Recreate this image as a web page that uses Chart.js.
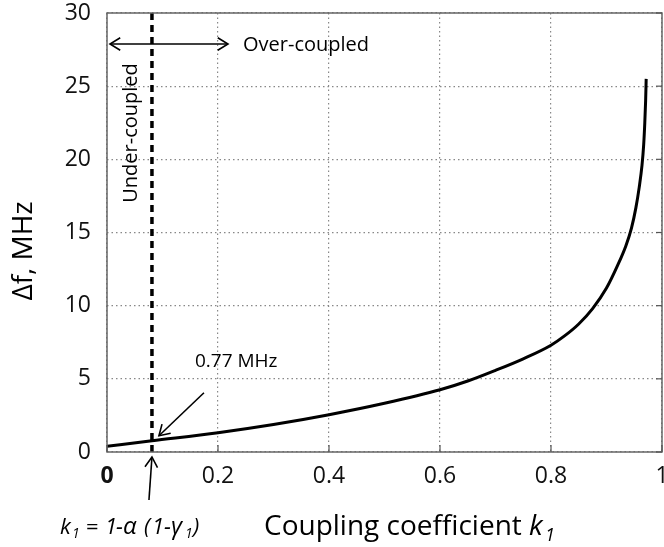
<!DOCTYPE html>
<html>
<head>
<meta charset="utf-8">
<script src="https://cdn.jsdelivr.net/npm/chart.js@4/dist/chart.umd.min.js"></script>
<style>
  html, body { margin: 0; padding: 0; background: #fff; }
  #wrap { width: 664px; height: 547px; }
</style>
</head>
<body>
<div id="wrap"><canvas id="dfChart" width="664" height="547"></canvas></div>
<script>
// values
const couplingK = [0, 0.081, 0.2, 0.3, 0.4, 0.5, 0.6, 0.65, 0.7, 0.75, 0.8, 0.825, 0.85, 0.875, 0.9, 0.92, 0.935, 0.945, 0.953, 0.959, 0.964, 0.967, 0.969, 0.9705, 0.9715];
const deltaF = [0.39, 0.77, 1.32, 1.88, 2.55, 3.33, 4.25, 4.85, 5.58, 6.37, 7.3, 7.95, 8.75, 9.8, 11.2, 12.75, 14.1, 15.3, 16.7, 18.1, 19.6, 21.0, 22.5, 24.0, 25.5];
const criticalK = 0.081;        // k1 = 1-a(1-g1)
const criticalDf = 0.77;        // MHz at the critical point
const yRange = [0, 30];
const xRange = [0, 1];

const FONT = "'Open Sans', 'Liberation Sans', sans-serif";

// draws text pieces, each at its own x
function drawAt(ctx, pieces, y) {
  pieces.forEach(p => {
    ctx.font = p.font;
    ctx.fillText(p.text, p.x, y + (p.dy || 0));
  });
}

function arrowHead(ctx, x1, y1, x2, y2, len) {
  const a = Math.atan2(y2 - y1, x2 - x1);
  ctx.beginPath();
  ctx.moveTo(x2 - len * Math.cos(a - 0.55), y2 - len * Math.sin(a - 0.55));
  ctx.lineTo(x2, y2);
  ctx.lineTo(x2 - len * Math.cos(a + 0.55), y2 - len * Math.sin(a + 0.55));
  ctx.stroke();
}

function arrow(ctx, x1, y1, x2, y2) {
  ctx.beginPath();
  ctx.moveTo(x1, y1);
  ctx.lineTo(x2, y2);
  ctx.stroke();
  arrowHead(ctx, x1, y1, x2, y2, 12);
}

const decorations = {
  id: 'decorations',
  afterDraw(chart) {
    const ctx = chart.ctx;
    const a = chart.chartArea;
    const xs = chart.scales.x, ys = chart.scales.y;
    ctx.save();

    // frame
    ctx.strokeStyle = '#666';
    ctx.lineWidth = 1.5;
    ctx.strokeRect(a.left, a.top, a.right - a.left, a.bottom - a.top);

    // small inner ticks on bottom and right
    ctx.lineWidth = 1.2;
    ctx.strokeStyle = '#555';
    xs.ticks.forEach(t => {
      const px = xs.getPixelForValue(t.value);
      ctx.beginPath(); ctx.moveTo(px, a.bottom); ctx.lineTo(px, a.bottom - 7); ctx.stroke();
    });
    ys.ticks.forEach(t => {
      const py = ys.getPixelForValue(t.value);
      ctx.beginPath(); ctx.moveTo(a.right, py); ctx.lineTo(a.right - 6, py); ctx.stroke();
    });

    ctx.fillStyle = '#000';
    ctx.strokeStyle = '#000';
    ctx.lineWidth = 1.6;

    // y title
    ctx.save();
    ctx.translate(24, 251);
    ctx.rotate(-Math.PI / 2);
    ctx.font = '28px ' + FONT;
    ctx.textAlign = 'center';
    ctx.textBaseline = 'middle';
    ctx.fillText('\u0394f, MHz', 0, 0);
    ctx.restore();

    // x title
    ctx.textAlign = 'left';
    ctx.textBaseline = 'alphabetic';
    ctx.font = '28px ' + FONT;
    ctx.fillText('Coupling coefficient ', 264, 535);
    const kx = 264 + ctx.measureText('Coupling coefficient ').width;
    drawAt(ctx, [
      { text: 'k', font: 'italic 28px ' + FONT, x: kx },
      { text: '1', font: 'italic 18px ' + FONT, x: kx + 16, dy: 6 }
    ], 535);

    // formula under the critical point
    const it = 'italic 22px ' + FONT, sub = 'italic 14px ' + FONT;
    drawAt(ctx, [
      { text: 'k', font: it, x: 60 },
      { text: '1', font: sub, x: 72, dy: 4 },
      { text: '=', font: '22px ' + FONT, x: 86 },
      { text: '1', font: it, x: 105 },
      { text: '-', font: it, x: 116 },
      { text: '\u03B1', font: 'italic 24px ' + FONT, x: 123 },
      { text: '(', font: it, x: 144 },
      { text: '1', font: it, x: 152 },
      { text: '-', font: it, x: 164 },
      { text: '\u03B3', font: 'italic 24px ' + FONT, x: 171 },
      { text: '1', font: sub, x: 185, dy: 4 },
      { text: ')', font: it, x: 193 }
    ], 534);

    const cx = xs.getPixelForValue(criticalK);
    const cy = ys.getPixelForValue(criticalDf);

    // arrow from the formula to the axis
    arrow(ctx, cx - 3, 500, cx, a.bottom + 5);

    // arrow pointing at the 0.77 MHz point
    arrow(ctx, cx + 52, cy - 48, cx + 7, cy - 5);
    ctx.font = '19px ' + FONT;
    ctx.fillText('0.77 MHz', 195, 367);

    // double arrow along the top
    const ay = 44;
    ctx.beginPath(); ctx.moveTo(a.left + 3, ay); ctx.lineTo(228, ay); ctx.stroke();
    arrowHead(ctx, cx, ay, a.left + 3, ay, 12);
    arrowHead(ctx, cx, ay, 228, ay, 12);
    ctx.font = '20px ' + FONT;
    ctx.textBaseline = 'middle';
    ctx.fillText('Over-coupled', 243, 45);

    // rotated "Under-coupled"
    ctx.save();
    ctx.translate(131, 133);
    ctx.rotate(-Math.PI / 2);
    ctx.textAlign = 'center';
    ctx.fillText('Under-coupled', 0, 0);
    ctx.restore();

    ctx.restore();
  }
};

new Chart(document.getElementById('dfChart').getContext('2d'), {
  type: 'scatter',
  data: {
    datasets: [
      {
        data: couplingK.map((k, i) => ({ x: k, y: deltaF[i] })),
        showLine: true,
        borderColor: '#000',
        borderWidth: 3,
        pointRadius: 0,
        cubicInterpolationMode: 'monotone'
      },
      {
        data: [{ x: criticalK, y: yRange[0] }, { x: criticalK, y: yRange[1] }],
        showLine: true,
        borderColor: '#000',
        borderWidth: 3.5,
        borderDash: [7, 5],
        pointRadius: 0
      }
    ]
  },
  options: {
    responsive: false,
    animation: false,
    layout: { padding: { top: 13, right: 2, left: 0, bottom: 0 } },
    plugins: { legend: { display: false }, tooltip: { enabled: false } },
    scales: {
      x: {
        type: 'linear',
        min: xRange[0],
        max: xRange[1],
        afterFit(s) { s.height = 95; s.paddingLeft = 0; s.paddingRight = 0; },
        grid: { color: '#888', lineWidth: 1.2, drawTicks: false },
        border: { display: false, dash: [1.5, 3] },
        ticks: {
          stepSize: 0.2,
          padding: 11,
          color: '#111',
          font: ctx => ({ family: FONT, size: 23, weight: ctx.tick && ctx.tick.value === 0 ? 'bold' : 'normal' }),
          callback: v => (v === 0 || v === 1) ? String(v) : v.toFixed(1)
        }
      },
      y: {
        min: yRange[0],
        max: yRange[1],
        afterFit(s) { s.width = 107; s.paddingTop = 0; s.paddingBottom = 0; },
        grid: { color: '#888', lineWidth: 1.2, drawTicks: false },
        border: { display: false, dash: [1.5, 3] },
        ticks: {
          stepSize: 5,
          padding: 16,
          color: '#111',
          font: { family: FONT, size: 23 }
        }
      }
    }
  },
  plugins: [decorations]
});
</script>
</body>
</html>
